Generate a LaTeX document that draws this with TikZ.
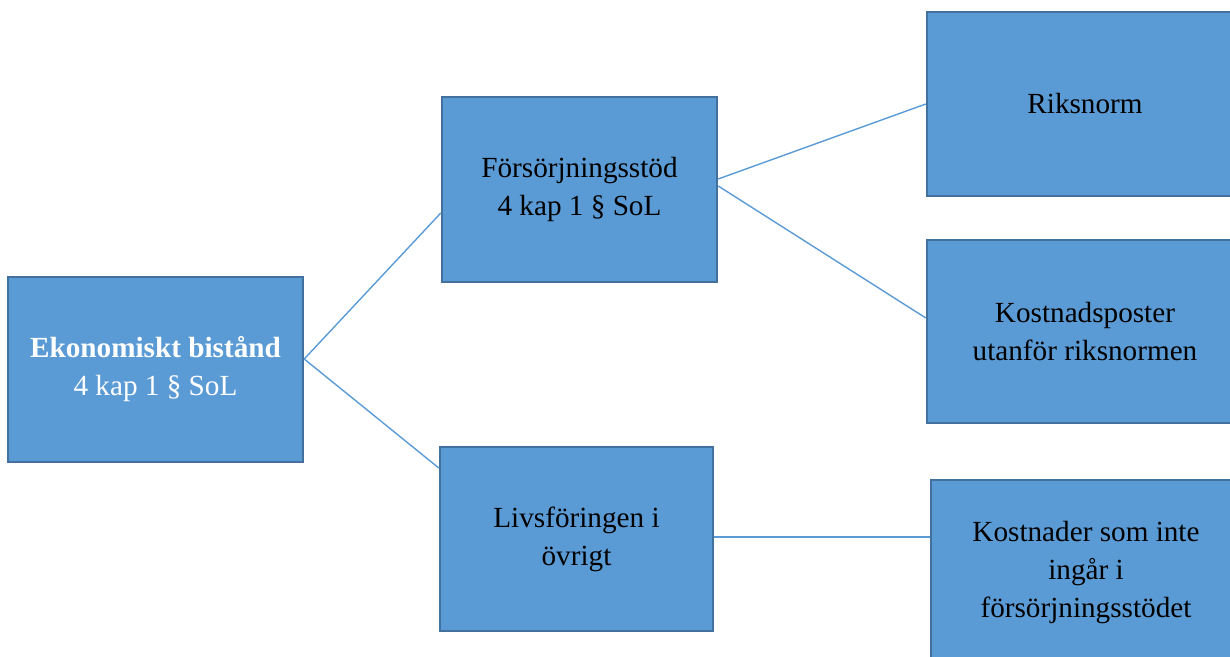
\documentclass[tikz,border=0pt]{standalone}
\usepackage{fontspec}
\setmainfont{Liberation Serif}
\usetikzlibrary{positioning}
\definecolor{boxblue}{RGB}{91, 155, 213}
\definecolor{edgeblue}{RGB}{65, 113, 156}

\begin{document}
\begin{tikzpicture}[
            x=0.5pt, y=-0.5pt,
            box/.style={draw=edgeblue, line width=1.2pt, fill=boxblue, minimum width=137.5pt, minimum height=92.5pt, inner sep=0pt, align=center, font=\fontsize{14.6}{19}\selectfont},
            link/.style={boxblue, line width=0.7pt}
        ]
            \useasboundingbox (0,0) rectangle (1230,657);

            \node[box, text=white, minimum width=147.5pt] (eko) at (155.5,369.5) {\textbf{Ekonomiskt bistånd}\\4 kap 1 § SoL};
            \node[box] (fors) at (579.5,189.5) {Försörjningsstöd\\4 kap 1 § SoL};
            \node[box, minimum width=136.5pt, minimum height=92pt] (livs) at (576.5,539) {Livsföringen i\\övrigt};

            \node[box, minimum width=158pt, minimum height=92pt] (riks) at (1085,104) {Riksnorm};
            \node[box, minimum width=158pt, minimum height=91.5pt] (kpost) at (1085,331.5) {Kostnadsposter\\utanför riksnormen};
            \node[box, minimum width=155pt, minimum height=93pt] (kost) at (1086,573) {Kostnader som inte\\ingår i\\försörjningsstödet};

            \draw[link] ([yshift=5.25pt]eko.east) -- ([yshift=-11.75pt]fors.west);
            \draw[link] ([yshift=5.25pt]eko.east) -- ([yshift=35.5pt]livs.west);
            \draw[link] ([yshift=5.25pt]fors.east) -- (riks.west);
            \draw[link] ([yshift=1.75pt]fors.east) -- ([yshift=6.75pt]kpost.west);
            \draw[link] ([yshift=1pt]livs.east) -- ([yshift=18pt]kost.west);
        \end{tikzpicture}
\end{document}
